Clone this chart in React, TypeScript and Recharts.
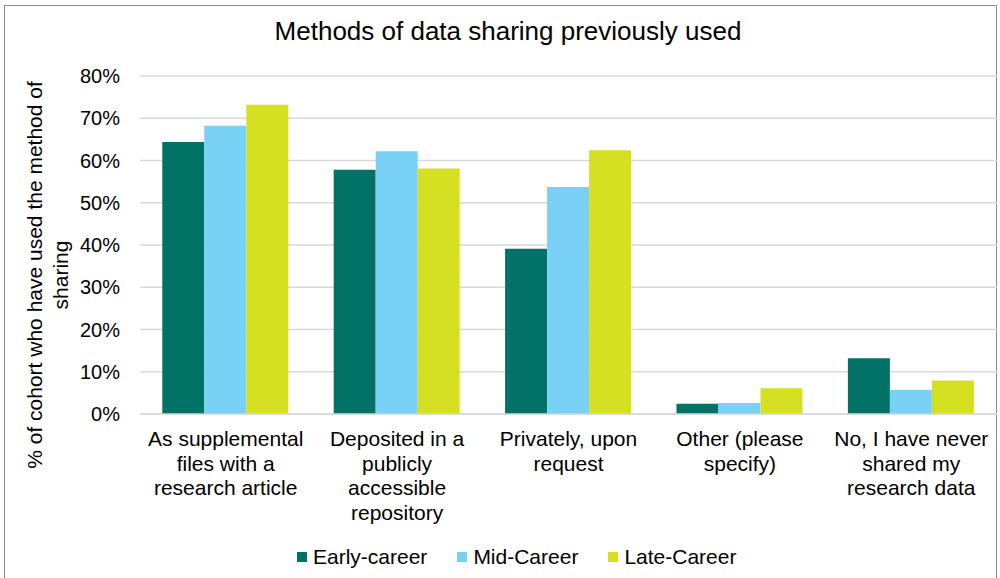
import { BarChart, Bar, XAxis, YAxis, CartesianGrid, Label } from "recharts";

const categories = [
  "As supplemental files with a research article",
  "Deposited in a publicly accessible repository",
  "Privately, upon request",
  "Other (please specify)",
  "No, I have never shared my research data",
];

// wrapped lines, as shown under each group
const categoryLines: string[][] = [
  ["As supplemental", "files with a", "research article"],
  ["Deposited in a", "publicly", "accessible", "repository"],
  ["Privately, upon", "request"],
  ["Other (please", "specify)"],
  ["No, I have never", "shared my", "research data"],
];

const earlyCareer = [0.644, 0.578, 0.391, 0.024, 0.132];
const midCareer = [0.682, 0.622, 0.537, 0.026, 0.057];
const lateCareer = [0.732, 0.581, 0.624, 0.061, 0.079];

const yTicks = [0, 0.1, 0.2, 0.3, 0.4, 0.5, 0.6, 0.7, 0.8];

const series = [
  { key: "early", name: "Early-career", color: "#027166" },
  { key: "mid", name: "Mid-Career", color: "#79D2F6" },
  { key: "late", name: "Late-Career", color: "#D6E023" },
];

const data = categories.map((c, i) => ({
  name: c,
  early: earlyCareer[i],
  mid: midCareer[i],
  late: lateCareer[i],
}));

const FONT = "'Liberation Sans', Arial, sans-serif";

function CategoryTick(props: any) {
  const { x, y, index } = props;
  const lines = categoryLines[index] || [];
  return (
    <text x={x} y={y} textAnchor="middle" fill="#000" fontSize={21} fontFamily={FONT}>
      {lines.map((l, i) => (
        <tspan key={i} x={x} dy={i === 0 ? 24 : 24.5}>{l}</tspan>
      ))}
    </text>
  );
}

function YTitle() {
  const cy = 275;
  const bx = 42;
  return (
    <text transform={`rotate(-90, ${bx}, ${cy})`} x={bx} y={cy} textAnchor="middle" fontSize={21} fontFamily={FONT} fill="#000">
      <tspan x={bx} dy={0}>% of cohort who have used the method of</tspan>
      <tspan x={bx} dy={26}>sharing</tspan>
    </text>
  );
}

export default function App() {
  return (
    <div style={{ position: "absolute", left: 0, top: 0, width: 1000, height: 578, background: "#fff", overflow: "hidden", fontFamily: FONT }}>
      <div style={{ position: "absolute", left: 4, top: 5, width: 993, height: 600, border: "1px solid #8a8a8a", boxSizing: "border-box" }} />
      <div style={{ position: "absolute", left: 0, top: 16, width: 1016, textAlign: "center", fontSize: 26, lineHeight: "30px", color: "#000" }}>
        Methods of data sharing previously used
      </div>
      <div style={{ position: "absolute", left: 0, top: 0 }}>
        <BarChart width={1000} height={578} data={data} margin={{ top: 76, right: 3, bottom: 44, left: 0 }} barCategoryGap="13%" barGap={0}>
          <CartesianGrid vertical={false} stroke="#d9d9d9" strokeWidth={1.5} />
          <XAxis dataKey="name" height={120} tick={<CategoryTick />} tickLine={false} axisLine={{ stroke: "#d9d9d9", strokeWidth: 1.5 }} interval={0} />
          <YAxis
            width={140}
            domain={[0, 0.8]}
            ticks={yTicks}
            tickFormatter={(v: number) => `${Math.round(v * 100)}%`}
            tick={{ fill: "#000", fontSize: 20, fontFamily: FONT }}
            tickLine={false}
            axisLine={false}
            tickMargin={14}
          >
            <Label content={<YTitle />} />
          </YAxis>
          {series.map((s) => (
            <Bar key={s.key} dataKey={s.key} name={s.name} fill={s.color} isAnimationActive={false} />
          ))}
        </BarChart>
      </div>
      <div style={{ position: "absolute", left: 297, top: 545, display: "flex", gap: 30, fontSize: 21, lineHeight: "24px", color: "#000" }}>
        {series.map((s) => (
          <div key={s.key} style={{ display: "flex", alignItems: "center" }}>
            <span style={{ display: "inline-block", width: 10, height: 10, background: s.color, marginRight: 6 }} />
            {s.name}
          </div>
        ))}
      </div>
    </div>
  );
}
